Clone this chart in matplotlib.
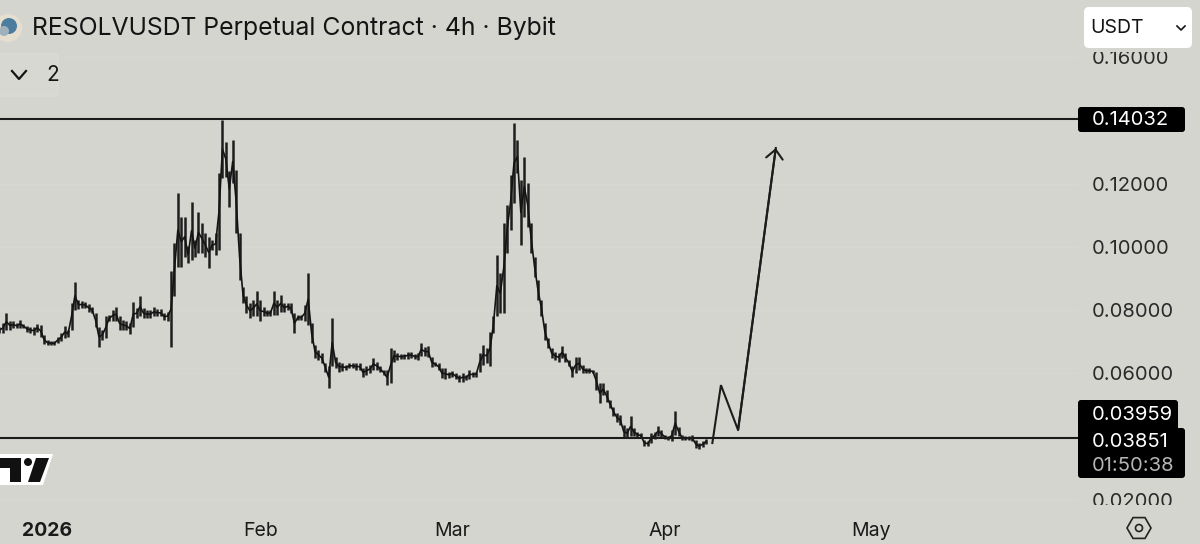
import matplotlib
matplotlib.use("Agg")
import numpy as np
import pandas as pd
import matplotlib.pyplot as plt
from matplotlib.patches import Circle, FancyBboxPatch, Polygon, Rectangle, RegularPolygon

plt.rcParams["font.family"] = ["Inter", "DejaVu Sans"]

BG = "#d4d5cf"
INK = "#141414"

# half-day high / low, starting 25 Dec 2025
highs = [.0748, .0759, .0790, .0767, .0764, .0759, .0769, .0756, .0750, .0748,
         .0748, .0756, .0753, .0722, .0704, .0701, .0701, .0716, .0727, .0750,
         .0737, .0822, .0890, .0832, .0829, .0827, .0820, .0811, .0790, .0748,
         .0737, .0780, .0785, .0801, .0811, .0780, .0769, .0764, .0759, .0827,
         .0806, .0843, .0806, .0801, .0801, .0809, .0803, .0803, .0790, .0795,
         .0922, .1011, .1169, .1095, .1095, .1001, .1143, .1022, .1111, .1074,
         .1043, .1032, .1022, .1043, .1232, .1401, .1332, .1238, .1338, .1243,
         .1043, .0874, .0843, .0822, .0832, .0859, .0832, .0811, .0801, .0801,
         .0859, .0832, .0848, .0822, .0822, .0822, .0790, .0785, .0785, .0816,
         .0916, .0759, .0690, .0674, .0664, .0632, .0622, .0774, .0653, .0637,
         .0632, .0627, .0632, .0632, .0632, .0632, .0616, .0622, .0627, .0648,
         .0637, .0622, .0611, .0611, .0680, .0674, .0664, .0662, .0662, .0669,
         .0669, .0662, .0664, .0697, .0683, .0685, .0653, .0637, .0632, .0616,
         .0616, .0606, .0609, .0601, .0595, .0601, .0595, .0611, .0606, .0606,
         .0664, .0690, .0680, .0732, .0780, .0974, .0916, .1074, .1132, .1227,
         .1390, .1338, .1211, .1285, .1201, .1074, .0969, .0895, .0832, .0759,
         .0711, .0680, .0669, .0664, .0685, .0664, .0643, .0622, .0653, .0653,
         .0627, .0616, .0616, .0611, .0606, .0569, .0569, .0548, .0516, .0495,
         .0474, .0469, .0437, .0427, .0464, .0427, .0416, .0411, .0390, .0385,
         .0411, .0416, .0434, .0420, .0406, .0403, .0422, .0480, .0432, .0406,
         .0401, .0401, .0406, .0390, .0380, .0385, .0392]
lows = [.0727, .0727, .0737, .0737, .0743, .0743, .0743, .0743, .0732, .0727,
        .0722, .0732, .0716, .0692, .0690, .0690, .0690, .0695, .0701, .0711,
        .0714, .0737, .0801, .0803, .0806, .0806, .0795, .0790, .0748, .0683,
        .0706, .0711, .0764, .0764, .0764, .0737, .0737, .0737, .0724, .0748,
        .0774, .0780, .0774, .0774, .0774, .0780, .0780, .0780, .0769, .0767,
        .0683, .0843, .0937, .0937, .0969, .0948, .0959, .0969, .0980, .0980,
        .0969, .0932, .0990, .0974, .0990, .1217, .1222, .1127, .1201, .1043,
        .0895, .0822, .0790, .0774, .0780, .0780, .0764, .0780, .0780, .0780,
        .0785, .0785, .0795, .0795, .0801, .0790, .0727, .0769, .0769, .0764,
        .0753, .0695, .0648, .0643, .0632, .0606, .0553, .0622, .0616, .0606,
        .0609, .0611, .0616, .0616, .0611, .0611, .0590, .0595, .0601, .0611,
        .0611, .0606, .0595, .0564, .0569, .0637, .0643, .0645, .0645, .0645,
        .0648, .0645, .0643, .0655, .0655, .0653, .0619, .0622, .0611, .0585,
        .0582, .0585, .0590, .0582, .0574, .0574, .0580, .0582, .0588, .0590,
        .0606, .0627, .0632, .0622, .0727, .0780, .0790, .0790, .0980, .1053,
        .1138, .1232, .1006, .1095, .1064, .0980, .0906, .0832, .0780, .0706,
        .0680, .0648, .0643, .0637, .0648, .0637, .0622, .0590, .0601, .0611,
        .0601, .0601, .0601, .0601, .0548, .0506, .0532, .0511, .0490, .0464,
        .0448, .0437, .0395, .0395, .0401, .0401, .0399, .0395, .0371, .0371,
        .0380, .0392, .0401, .0399, .0392, .0388, .0385, .0406, .0401, .0388,
        .0388, .0388, .0385, .0364, .0361, .0367, .0377]

levels = [0.14032, 0.03959]
path_days = ["2026-04-07 22:00", "2026-04-09 04:00", "2026-04-11 16:00", "2026-04-17 04:00"]
path_prices = [0.0380, 0.0563, 0.0421, 0.1312]

y_ticks = [0.02, 0.04, 0.06, 0.08, 0.10, 0.12, 0.14, 0.16]
y_labels = ["0.02000", "", "0.06000", "0.08000", "0.10000", "0.12000", "", "0.16000"]
x_ticks = ["2026-01-01", "2026-02-01", "2026-03-01", "2026-04-01", "2026-05-01"]
x_labels = ["2026", "Feb", "Mar", "Apr", "May"]

times = pd.date_range("2025-12-25", periods=len(highs), freq="12h")
mids = (np.array(highs) + np.array(lows)) / 2
path_times = pd.to_datetime(path_days)

fig = plt.figure(figsize=(12, 5.44), dpi=100, facecolor=BG)
ax = fig.add_axes([0, 39 / 544, 1078 / 1200, 505 / 544], facecolor=BG)

ax.vlines(times, lows, highs, color="#1e1e1e", lw=1.8)
ax.plot(times, mids, color=INK, lw=1.2)
ax.hlines(levels, 0, 1, transform=ax.get_yaxis_transform(), color="#1c1c1c", lw=1.5)
ax.plot(path_times, path_prices, color="#1c1c1c", lw=1.5, solid_joinstyle="miter")
ax.annotate("", xy=(path_times[-1], path_prices[-1]), xytext=(path_times[-2], path_prices[-2]),
            arrowprops=dict(arrowstyle="->,head_length=0.65,head_width=0.6", color="#1c1c1c", lw=1.5,
                            shrinkA=0, shrinkB=0, mutation_scale=10))

ax.set_xlim(pd.Timestamp("2026-01-01") - pd.Timedelta(days=47.5 / 6.86),
            pd.Timestamp("2026-01-01") + pd.Timedelta(days=1030.5 / 6.86))
ax.set_ylim(0.01842, 0.17798)
ax.set_xticks(pd.to_datetime(x_ticks))
ax.set_xticklabels(x_labels, fontsize=14, color="#1a1a1a")
ax.get_xticklabels()[0].set_fontweight("bold")
ax.yaxis.tick_right()
ax.set_yticks(y_ticks)
ax.set_yticklabels(y_labels, fontsize=14.5, color="#2a2a2a")
ax.tick_params(length=0)
ax.tick_params(axis="x", pad=12.5)
ax.tick_params(axis="y", pad=10)
ax.grid(axis="y", color="#d7d8d2", lw=1)
for s in ax.spines.values():
    s.set_visible(False)
ax.set_axisbelow(True)

# screen furniture on top, in pixel coordinates
ui = fig.add_axes([0, 0, 1, 1], zorder=5)
ui.set_xlim(0, 1200)
ui.set_ylim(544, 0)
ui.axis("off")

ui.add_patch(Rectangle((1060, 0), 140, 52, color=BG, lw=0))
ui.add_patch(Rectangle((1078, 505), 122, 14, color=BG, lw=0))

# symbol icon and title
ui.add_patch(Circle((8, 28), 14, color="#e6dfd0", lw=0))
ui.add_patch(Circle((9, 26), 8, color="#4c7d9f", lw=0))
ui.add_patch(Circle((4, 31), 5, color="#9fb2bc", lw=0))
ui.text(32, 28, "RESOLVUSDT Perpetual Contract · 4h · Bybit", fontsize=17.85, color=INK, va="center", ha="left")

# collapsed indicators button
ui.add_patch(FancyBboxPatch((-10, 54), 68, 42, boxstyle="round,pad=0,rounding_size=4",
                            fc="#d7d8d2", ec="#dadbd5", lw=1))
ui.plot([12, 19, 26], [71, 79, 71], color=INK, lw=1.6)
ui.text(46, 75, "2", fontsize=15, color=INK, va="center", ha="left")

# currency selector
ui.add_patch(FancyBboxPatch((1084, 7), 108, 41, boxstyle="round,pad=0,rounding_size=5",
                            fc="white", ec="none"))
ui.text(1090, 28, "USDT", fontsize=14, color=INK, va="center", ha="left")
ui.plot([1177, 1181, 1185], [26, 30, 26], color=INK, lw=1.2)

# price badges
for x0, y0, w, h in [(1078, 107, 107, 25), (1078, 400, 100, 32), (1078, 428, 107, 50)]:
    ui.add_patch(FancyBboxPatch((x0, y0), w, h, boxstyle="round,pad=0,rounding_size=3", fc="black", ec="none"))
ui.text(1092, 120, "0.14032", fontsize=14.5, color="white", va="center", ha="left")
ui.text(1092, 415, "0.03959", fontsize=14.5, color="white", va="center", ha="left")
ui.text(1092, 442, "0.03851", fontsize=14.5, color="white", va="center", ha="left")
ui.text(1092, 466, "01:50:38", fontsize=14.5, color="#b5b5b5", va="center", ha="left")

# settings hexagon
ui.add_patch(RegularPolygon((1139, 528), 6, radius=12, orientation=np.pi / 6, fc="none", ec="#222222", lw=1.2))
ui.add_patch(Circle((1139, 528), 3.5, fc="none", ec="#222222", lw=1.2))

# TradingView mark
ui.add_patch(Polygon([(0, 454), (53, 454), (43, 485), (0, 485)], color="white", lw=0))
ui.add_patch(Polygon([(0, 458), (21, 458), (21, 482), (10, 482), (10, 468), (0, 468)], color="#111111", lw=0))
ui.add_patch(Circle((28, 462), 4, color="#111111", lw=0))
ui.add_patch(Polygon([(36, 458), (49, 458), (40, 482), (28, 482)], color="#111111", lw=0))

fig.savefig("out.png", dpi=100, facecolor=BG)
